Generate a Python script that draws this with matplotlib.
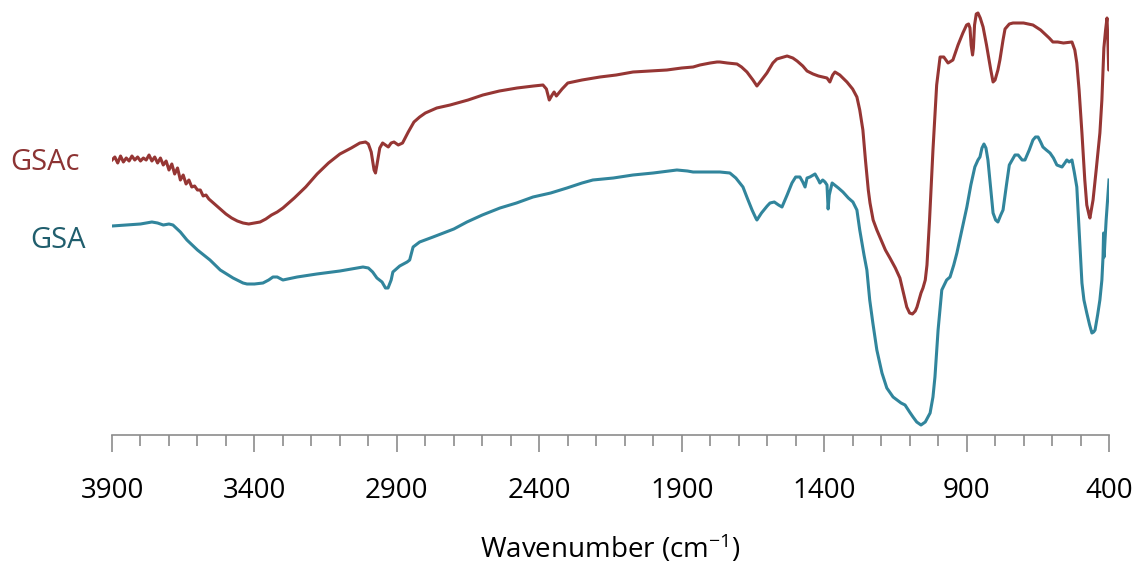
import matplotlib
matplotlib.use("Agg")
import matplotlib.pyplot as plt
from matplotlib.ticker import MultipleLocator

plt.rcParams['font.family'] = ['Open Sans', 'DejaVu Sans']
plt.rcParams['mathtext.fontset'] = 'custom'
plt.rcParams['mathtext.rm'] = 'Open Sans'
plt.rcParams['mathtext.it'] = 'Open Sans'

# FTIR spectra, transmittance in arbitrary units (offset curves)
gsac_wn = [3900, 3890, 3880, 3870, 3860, 3850, 3840, 3830, 3820, 3810, 3800, 3790, 3780, 3770,
           3760, 3750, 3740, 3730, 3720, 3710, 3700, 3690, 3680, 3670, 3660, 3650, 3640, 3630,
           3620, 3610, 3600, 3590, 3580, 3570, 3560, 3540, 3520, 3500, 3480, 3460, 3440, 3420,
           3400, 3380, 3360, 3340, 3320, 3300, 3260, 3220, 3180, 3140, 3100, 3060, 3030, 3010,
           3000, 2990, 2980, 2975, 2970, 2960, 2950, 2940, 2930, 2920, 2910, 2895, 2880, 2860,
           2840, 2820, 2800, 2760, 2713, 2650, 2598, 2540, 2478, 2420, 2387, 2375, 2365, 2355,
           2348, 2340, 2320, 2300, 2250, 2187, 2130, 2071, 2010, 1952, 1900, 1860, 1836, 1800,
           1776, 1766, 1740, 1706, 1690, 1671, 1650, 1636, 1625, 1601, 1580, 1566, 1530, 1510,
           1495, 1475, 1460, 1439, 1420, 1390, 1380, 1370, 1362, 1345, 1320, 1300, 1285, 1275,
           1264, 1255, 1245, 1239, 1228, 1215, 1200, 1185, 1169, 1150, 1134, 1120, 1110, 1100,
           1090, 1080, 1074, 1060, 1053, 1045, 1039, 1030, 1018, 1005, 993, 980, 965, 948,
           930, 913, 900, 893, 888, 884, 879, 876, 872, 866, 860, 852, 842, 830,
           815, 807, 800, 790, 783, 772, 765, 750, 737, 700, 667, 640, 610, 597,
           580, 560, 530, 520, 513, 505, 495, 485, 478, 470, 467, 462, 456, 445,
           432, 425, 418, 412, 407, 404, 401, 400]
gsac_t = [275, 278, 272, 279, 273, 277, 274, 279, 275, 278, 274, 277, 275, 280,
          274, 278, 272, 277, 270, 274, 265, 271, 261, 267, 255, 260, 251, 255,
          248, 249, 245, 245, 239, 240, 236, 231, 226, 221, 217, 214, 212, 211,
          212, 213, 216, 220, 223, 227, 237, 248, 261, 272, 281, 287, 292, 293,
          291, 283, 265, 262, 270, 287, 292, 290, 288, 292, 293, 290, 292, 303,
          313, 318, 322, 327, 330, 335, 340, 344, 347, 349, 350, 346, 335, 340,
          343, 339, 346, 352, 355, 358, 360, 363, 364, 365, 367, 368, 370, 372,
          373, 373, 372, 371, 368, 363, 355, 349, 353, 362, 372, 376, 379, 377,
          374, 369, 364, 361, 359, 357, 353, 360, 363, 360, 353, 346, 338, 325,
          305, 275, 245, 232, 215, 205, 195, 185, 177, 167, 157, 140, 128, 122,
          121, 124, 128, 142, 147, 155, 170, 215, 285, 350, 378, 378, 372, 375,
          390, 402, 410, 411, 407, 390, 380, 387, 410, 421, 422, 417, 408, 390,
          365, 353, 355, 365, 375, 395, 406, 411, 412, 412, 410, 405, 397, 393,
          393, 392, 393, 385, 372, 345, 302, 255, 230, 220, 217, 225, 235, 265,
          302, 335, 387, 405, 417, 395, 365, 365]

gsa_wn = [3900, 3850, 3800, 3760, 3740, 3720, 3700, 3686, 3660, 3637, 3600, 3556, 3520, 3475,
          3440, 3426, 3400, 3370, 3350, 3335, 3320, 3300, 3250, 3181, 3100, 3019, 3000, 2985,
          2970, 2952, 2940, 2931, 2920, 2914, 2890, 2864, 2855, 2843, 2820, 2773, 2700, 2654,
          2600, 2538, 2480, 2422, 2360, 2303, 2250, 2212, 2140, 2071, 2000, 1917, 1880, 1860,
          1800, 1766, 1731, 1710, 1685, 1670, 1653, 1640, 1636, 1620, 1600, 1590, 1575, 1560,
          1548, 1530, 1513, 1500, 1485, 1475, 1467, 1460, 1450, 1432, 1420, 1415, 1405, 1397,
          1390, 1386, 1382, 1372, 1350, 1334, 1315, 1299, 1285, 1275, 1260, 1250, 1240, 1229,
          1215, 1197, 1180, 1158, 1130, 1116, 1100, 1088, 1075, 1060, 1045, 1028, 1018, 1011,
          1000, 987, 970, 958, 945, 934, 915, 899, 885, 871, 860, 853, 846, 839,
          832, 825, 815, 807, 798, 790, 780, 772, 760, 750, 740, 730, 719, 705,
          695, 680, 667, 658, 649, 640, 632, 620, 607, 595, 583, 565, 555, 548,
          540, 530, 522, 513, 505, 495, 488, 478, 468, 460, 454, 449, 440, 432,
          425, 421, 419, 418, 417, 414, 410, 405, 400]
gsa_t = [209, 210, 211, 213, 212, 210, 211, 210, 203, 195, 185, 175, 165, 157,
         152, 151, 151, 152, 155, 158, 158, 155, 158, 161, 164, 168, 167, 163,
         157, 153, 147, 147, 155, 163, 169, 173, 175, 188, 193, 198, 206, 213,
         220, 227, 232, 238, 242, 247, 252, 255, 257, 260, 262, 265, 264, 263,
         263, 263, 262, 257, 248, 237, 225, 217, 215, 222, 229, 232, 233, 230,
         228, 240, 252, 258, 258, 253, 248, 257, 258, 261, 255, 252, 255, 253,
         250, 226, 240, 252, 247, 243, 237, 233, 225, 205, 180, 165, 135, 112,
         85, 62, 47, 38, 32, 30, 23, 18, 13, 10, 13, 22, 38, 58,
         105, 145, 155, 158, 170, 182, 207, 228, 250, 268, 275, 278, 287, 291,
         287, 275, 245, 222, 215, 213, 220, 225, 250, 270, 275, 280, 280, 275,
         275, 285, 295, 298, 298, 293, 288, 285, 282, 277, 270, 268, 272, 275,
         273, 275, 263, 248, 205, 152, 135, 122, 110, 102, 103, 105, 120, 135,
         155, 178, 202, 195, 178, 195, 215, 235, 255]

names = ['GSAc', 'GSA']
line_colors = ['#963634', '#31859c']
label_colors = ['#8c3333', '#205e6d']

fig = plt.figure(figsize=(11.41, 5.67), dpi=100)
ax = fig.add_axes([112 / 1141, 132 / 567, 997 / 1141, 435 / 567])

ax.plot(gsac_wn, gsac_t, color=line_colors[0], lw=2.2, solid_joinstyle='round')
ax.plot(gsa_wn, gsa_t, color=line_colors[1], lw=2.2, solid_joinstyle='round')

ax.set_xlim(3900, 400)
ax.set_ylim(0, 435)

for s in ['top', 'left', 'right']:
    ax.spines[s].set_visible(False)
ax.spines['bottom'].set_color('#8c8c8c')
ax.spines['bottom'].set_linewidth(1.2)
ax.set_yticks([])

ax.xaxis.set_major_locator(MultipleLocator(500, offset=400))
ax.xaxis.set_minor_locator(MultipleLocator(100))
ax.tick_params(axis='x', which='major', length=12, width=1.2, color='#8c8c8c',
               labelsize=20, pad=18, labelcolor='black')
ax.tick_params(axis='x', which='minor', length=8, width=1.2, color='#8c8c8c')
ax.set_xlabel('Wavenumber (cm$^{-1}$)', fontsize=20, labelpad=20)

fig.text(10 / 1141, 1 - 162 / 567, names[0], color=label_colors[0], fontsize=21,
         ha='left', va='center')
fig.text(30 / 1141, 1 - 240 / 567, names[1], color=label_colors[1], fontsize=21,
         ha='left', va='center')

fig.savefig('out.png', dpi=100)
